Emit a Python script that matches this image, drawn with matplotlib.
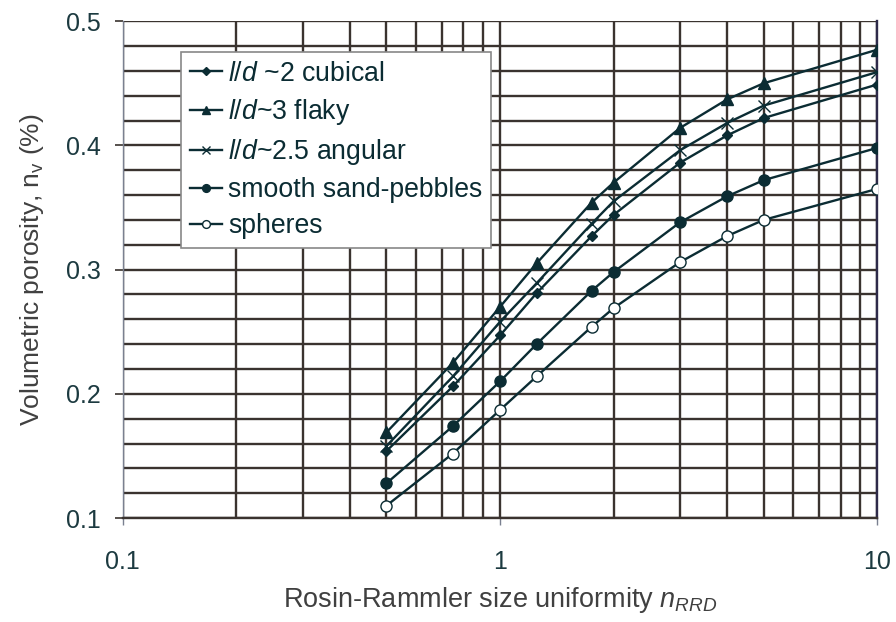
import matplotlib.pyplot as plt
from matplotlib.ticker import LogLocator, MultipleLocator, FixedLocator, NullFormatter

plt.rcParams['font.family'] = ['Liberation Sans', 'DejaVu Sans']
plt.rcParams['mathtext.fontset'] = 'custom'
plt.rcParams['mathtext.rm'] = 'Liberation Sans'
plt.rcParams['mathtext.it'] = 'Liberation Sans:italic'

# data
n_rrd = [0.5, 0.75, 1, 1.25, 1.75, 2, 3, 4, 5, 10]
cubical = [0.154, 0.206, 0.247, 0.281, 0.327, 0.344, 0.386, 0.408, 0.422, 0.449]
flaky = [0.169, 0.225, 0.270, 0.305, 0.354, 0.370, 0.414, 0.437, 0.450, 0.477]
angular = [0.158, 0.214, 0.258, 0.289, 0.337, 0.355, 0.396, 0.418, 0.432, 0.459]
sand_pebbles = [0.128, 0.174, 0.210, 0.240, 0.283, 0.298, 0.338, 0.359, 0.372, 0.398]
spheres = [0.110, 0.152, 0.187, 0.214, 0.254, 0.269, 0.306, 0.327, 0.340, 0.365]

line_col = '#0b2c33'
grid_col = '#3a332f'

fig = plt.figure(figsize=(8.96, 6.22), dpi=100)
ax = fig.add_axes([0.137, 0.167, 0.842, 0.799])

ax.plot(n_rrd, cubical, color=line_col, lw=1.7, marker='D', ms=5.5, label=r'$\mathit{l/d}$ ~2 cubical', zorder=4)
ax.plot(n_rrd, flaky, color=line_col, lw=1.7, marker='^', ms=8, label=r'$\mathit{l/d}$~3 flaky', zorder=4)
ax.plot(n_rrd, angular, color=line_col, lw=1.7, marker='x', ms=8, mew=1.0, label=r'$\mathit{l/d}$~2.5 angular', zorder=4)
ax.plot(n_rrd, sand_pebbles, color=line_col, lw=1.7, marker='o', ms=8, label='smooth sand-pebbles', zorder=4)
ax.plot(n_rrd, spheres, color=line_col, lw=1.7, marker='o', ms=8, mfc='white', mew=1.0,
        label='spheres', zorder=4)

ax.set_xscale('log')
ax.set_xlim(0.1, 10)
ax.set_ylim(0.1, 0.5)

ax.xaxis.set_major_locator(FixedLocator([0.1, 1, 10]))
ax.set_xticklabels(['0.1', '1', '10'])
ax.xaxis.set_minor_locator(LogLocator(base=10, subs=range(2, 10)))
ax.xaxis.set_minor_formatter(NullFormatter())
ax.yaxis.set_major_locator(MultipleLocator(0.1))
ax.yaxis.set_minor_locator(MultipleLocator(0.02))

ax.grid(True, which='both', color=grid_col, lw=1.7, zorder=1)
ax.set_axisbelow(True)

ax.spines['top'].set_visible(False)
ax.spines['left'].set_color('#7a8090')
ax.spines['left'].set_linewidth(1.0)
ax.spines['bottom'].set_color(grid_col)
ax.spines['bottom'].set_linewidth(1.7)
ax.spines['right'].set_color('#2e2a4a')
ax.spines['right'].set_linewidth(1.7)

ax.tick_params(axis='y', which='major', length=6, width=1.2, color=grid_col, labelsize=18,
               labelcolor='#1c3a40', pad=10)
ax.tick_params(axis='y', which='minor', length=0)
ax.tick_params(axis='x', which='major', length=5, width=1.0, color='#7a8090', labelsize=18,
               labelcolor='#1c3a40', pad=18)
ax.tick_params(axis='x', which='minor', length=0)

ax.set_xlabel(r'Rosin-Rammler size uniformity $n_{RRD}$', fontsize=19.5, color='#404040', labelpad=8)
ax.set_ylabel(r'Volumetric porosity, n$_{\mathregular{v}}$ (%)', fontsize=19, color='#404040', labelpad=14)

leg = ax.legend(loc='upper left', bbox_to_anchor=(0.077, 0.938), fontsize=19.2, frameon=True,
                fancybox=False, edgecolor='#888888', framealpha=1, handlelength=1.2,
                handletextpad=0.25, borderpad=0.33, labelspacing=0.38, markerscale=0.7,
                borderaxespad=0)
leg.get_frame().set_linewidth(1.2)
for t in leg.get_texts():
    t.set_color('#0b2c33')

fig.savefig('out.png', dpi=100)
